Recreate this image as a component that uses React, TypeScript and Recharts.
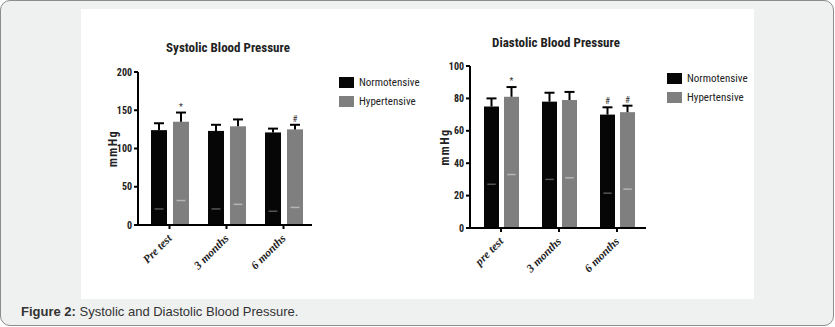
import React from 'react';
import { BarChart, Bar, XAxis, YAxis, Legend } from 'recharts';

// ---------- data ----------
const sysCategories = ['Pre test', '3 months', '6 months'];
const sysNorm = [124, 123, 121];
const sysNormErr = [9, 8, 5];
const sysNormMark = [21, 21, 18];
const sysNormSig = ['', '', ''];
const sysHyp = [135, 129, 125];
const sysHypErr = [12, 9, 6];
const sysHypMark = [32, 27, 23];
const sysHypSig = ['*', '', '#'];
const sysTicks = [0, 50, 100, 150, 200];

const diaCategories = ['pre test', '3 months', '6 months'];
const diaNorm = [75, 78, 70];
const diaNormErr = [5, 5.5, 4.5];
const diaNormMark = [27, 30, 21.5];
const diaNormSig = ['', '', '#'];
const diaHyp = [81, 79, 71.5];
const diaHypErr = [6, 5, 4];
const diaHypMark = [33, 31, 24];
const diaHypSig = ['*', '', '#'];
const diaTicks = [0, 20, 40, 60, 80, 100];

const seriesNames = ['Normotensive', 'Hypertensive'];

const buildData = (cats, n, nE, nM, nS, h, hE, hM, hS) =>
  cats.map((c, i) => ({
    cat: c,
    norm: n[i], normErr: nE[i], normMark: nM[i], normSig: nS[i],
    hyp: h[i], hypErr: hE[i], hypMark: hM[i], hypSig: hS[i],
  }));

const sysData = buildData(sysCategories, sysNorm, sysNormErr, sysNormMark, sysNormSig, sysHyp, sysHypErr, sysHypMark, sysHypSig);
const diaData = buildData(diaCategories, diaNorm, diaNormErr, diaNormMark, diaNormSig, diaHyp, diaHypErr, diaHypMark, diaHypSig);

// ---------- styles ----------
const BLACK = '#060606';
const GRAY = '#7f7f7f';
const NARROW = "'Liberation Sans Narrow', 'Arial Narrow', 'Roboto Condensed', 'Liberation Sans', Arial, sans-serif";
const SERIF = "'Liberation Serif', 'Times New Roman', serif";

// bar + inner mark + upper error whisker + significance sign, all scaled from the bar's own geometry
const makeShape = (key: string, markColor: string) => (props: any) => {
  const { x, y, width, height, fill, payload } = props;
  const v = payload[key];
  const ppu = v ? height / v : 0;
  const cx = x + width / 2;
  const markY = y + height - payload[key + 'Mark'] * ppu;
  const errTop = y - payload[key + 'Err'] * ppu;
  const sig = payload[key + 'Sig'];
  return (
    <g>
      <rect x={x} y={y} width={width} height={height} fill={fill} />
      <line x1={x + width * 0.22} x2={x + width * 0.78} y1={markY} y2={markY} stroke={markColor} strokeWidth={1.5} />
      <line x1={cx} x2={cx} y1={y} y2={errTop} stroke="#000" strokeWidth={2} />
      <line x1={cx - 5} x2={cx + 5} y1={errTop} y2={errTop} stroke="#000" strokeWidth={2} />
      {sig ? (
        <text x={cx} y={errTop - 3} textAnchor="middle" fontSize={9} fontFamily={NARROW} fill="#333">
          {sig}
        </text>
      ) : null}
    </g>
  );
};

const normShape = makeShape('norm', '#555');
const hypShape = makeShape('hyp', '#b5b5b5');

const XTick = (props: any) => {
  const { x, y, payload } = props;
  return (
    <text
      x={x + 3}
      y={y + 8}
      transform={`rotate(-45 ${x + 3} ${y + 8})`}
      textAnchor="end"
      fontFamily={SERIF}
      fontWeight="bold"
      fontStyle="italic"
      fontSize={11.5}
      fill="#222"
    >
      {payload.value}
    </text>
  );
};

const YTick = (props: any) => {
  const { x, y, payload } = props;
  return (
    <text x={x} y={y + 3.5} textAnchor="end" fontFamily={NARROW} fontWeight="bold" fontSize={10} fill="#222">
      {payload.value}
    </text>
  );
};

const LegendContent = () => (
  <div style={{ fontFamily: NARROW, fontSize: 11, color: '#222' }}>
    {seriesNames.map((n, i) => (
      <div key={n} style={{ display: 'flex', alignItems: 'center', height: 19 }}>
        <span style={{ display: 'inline-block', width: 15, height: 11, background: i === 0 ? BLACK : GRAY, marginRight: 5 }} />
        <span>{n}</span>
      </div>
    ))}
  </div>
);

const axisStroke = { stroke: '#000', strokeWidth: 2 };

function Panel(p: any) {
  return (
    <div style={{ position: 'absolute', left: p.left, top: p.top }}>
      <BarChart
        width={340}
        height={270}
        data={p.data}
        margin={{ top: p.mTop, right: p.mRight, bottom: 0, left: 0 }}
        barSize={p.barSize}
        barGap={p.barGap}
      >
        <XAxis
          dataKey="cat"
          height={p.xH}
          padding={{ left: p.padL, right: 0 }}
          interval={0}
          axisLine={axisStroke}
          tickLine={axisStroke}
          tickSize={4}
          tick={<XTick />}
        />
        <YAxis
          width={p.yW}
          domain={[0, p.max]}
          ticks={p.ticks}
          interval={0}
          axisLine={axisStroke}
          tickLine={axisStroke}
          tickSize={4}
          tick={<YTick />}
          label={{
            value: 'mmHg',
            angle: -90,
            position: 'center',
            dx: p.labelDx,
            style: { fontFamily: NARROW, fontWeight: 'bold', fontSize: 12, letterSpacing: 1.5, fill: '#222' },
          }}
        />
        <Legend
          layout="vertical"
          align="center"
          verticalAlign="middle"
          wrapperStyle={{ position: 'absolute', left: p.legL, top: p.legT, width: 'auto' }}
          content={<LegendContent />}
        />
        <Bar dataKey="norm" name={seriesNames[0]} fill={BLACK} shape={normShape} isAnimationActive={false} />
        <Bar dataKey="hyp" name={seriesNames[1]} fill={GRAY} shape={hypShape} isAnimationActive={false} />
      </BarChart>
      <div
        style={{
          position: 'absolute', left: p.titleX - 100, top: p.titleY - 9, width: 200, textAlign: 'center',
          fontFamily: NARROW, fontWeight: 'bold', fontSize: 13, lineHeight: '18px', color: '#222',
        }}
      >
        {p.title}
      </div>
    </div>
  );
}

export default function App() {
  return (
    <div style={{ position: 'absolute', left: 0, top: 0, width: 835, height: 327, overflow: 'hidden' }}>
      <div
        style={{
          position: 'absolute', left: 0, top: 0, width: 832, height: 324, border: '1px solid #8c8c8c',
          borderRadius: 10, background: '#eff0f0',
        }}
      />
      <div style={{ position: 'absolute', left: 81, top: 9, width: 673, height: 290, background: '#fff' }} />
      <Panel
        left={80} top={30} data={sysData} mTop={42} mRight={108} yW={58} xH={75} padL={3}
        barSize={16} barGap={6} max={200} ticks={sysTicks} labelDx={4} legL={259} legT={43}
        title="Systolic Blood Pressure" titleX={148} titleY={18}
      />
      <Panel
        left={420} top={30} data={diaData} mTop={36} mRight={114} yW={50} xH={72} padL={2}
        barSize={15} barGap={5} max={100} ticks={diaTicks} labelDx={0} legL={247} legT={39}
        title="Diastolic Blood Pressure" titleX={136} titleY={13}
      />
      <div
        style={{
          position: 'absolute', left: 21, top: 304, fontFamily: "'Liberation Sans', Arial, sans-serif",
          fontSize: 13, color: '#333', whiteSpace: 'nowrap',
        }}
      >
        <b>Figure 2:</b> Systolic and Diastolic Blood Pressure.
      </div>
    </div>
  );
}
